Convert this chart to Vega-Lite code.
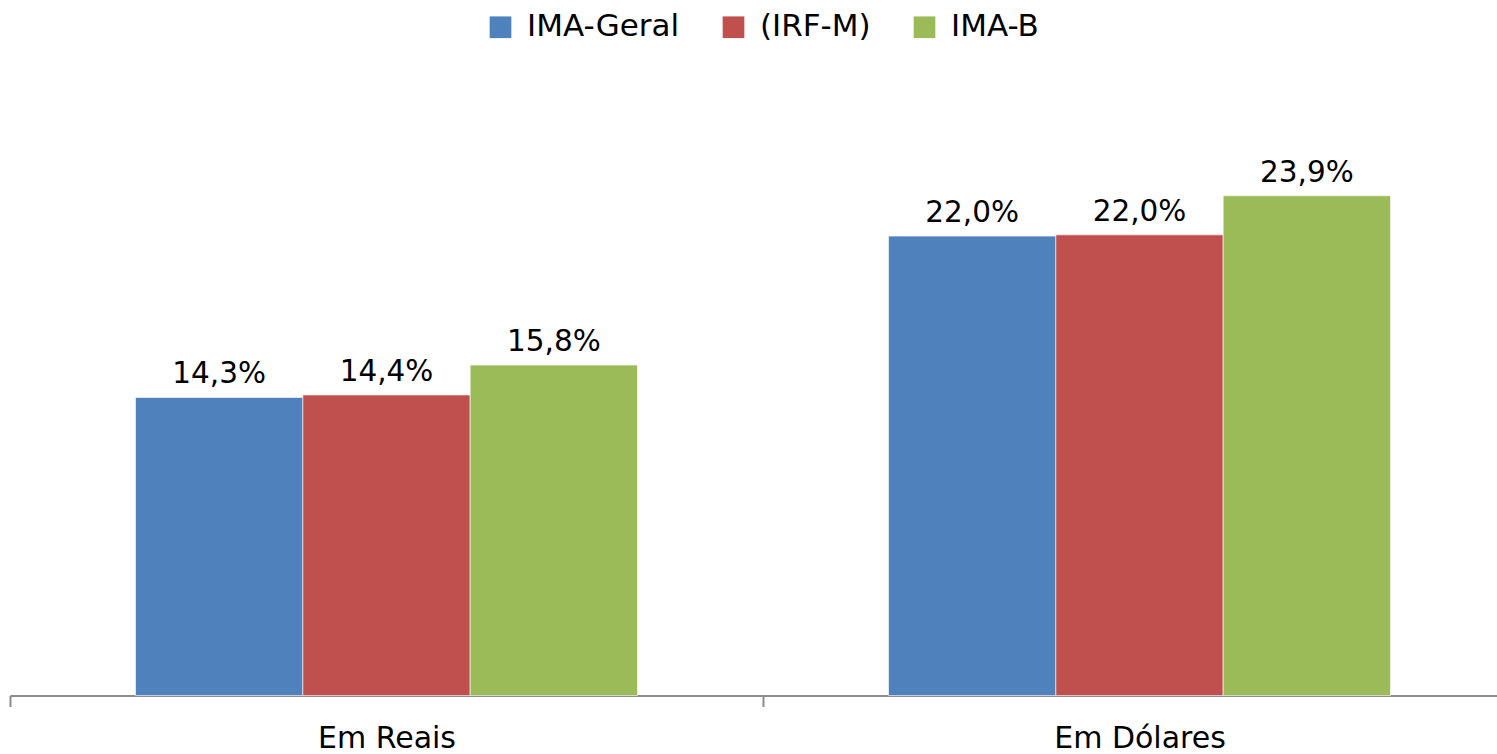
{
  "$schema": "https://vega.github.io/schema/vega-lite/v6.json",
  "autosize": {"type": "none"},
  "width": 1487,
  "height": 627,
  "padding": {"left": 10, "top": 68.5, "right": 0, "bottom": 58.5},
  "background": "white",
  "config": {
    "view": {"stroke": null},
    "locale": {"number": {"decimal": ",", "thousands": ".", "grouping": [3], "currency": ["R$", ""]}},
    "font": "DejaVu Sans"
  },
  "data": {
    "values": [
      {"grupo": "Em Reais", "indice": "IMA-Geral", "retorno": 0.1426},
      {"grupo": "Em Reais", "indice": "(IRF-M)", "retorno": 0.1438},
      {"grupo": "Em Reais", "indice": "IMA-B", "retorno": 0.1581},
      {"grupo": "Em Dólares", "indice": "IMA-Geral", "retorno": 0.2198},
      {"grupo": "Em Dólares", "indice": "(IRF-M)", "retorno": 0.2204},
      {"grupo": "Em Dólares", "indice": "IMA-B", "retorno": 0.2391}
    ]
  },
  "encoding": {
    "x": {
      "field": "grupo",
      "type": "nominal",
      "sort": ["Em Reais", "Em Dólares"],
      "scale": {"range": [0, 1506], "paddingInner": 0, "paddingOuter": 0},
      "axis": {
        "title": null,
        "tickBand": "extent",
        "labelAngle": 0,
        "labelFont": "DejaVu Sans",
        "labelFontSize": 30,
        "labelColor": "#000000",
        "labelPadding": 17,
        "tickSize": 11,
        "tickWidth": 2,
        "tickColor": "#8c8c8c",
        "domainColor": "#8c8c8c",
        "domainWidth": 2,
        "grid": false
      }
    },
    "xOffset": {
      "field": "indice",
      "type": "nominal",
      "sort": ["IMA-Geral", "(IRF-M)", "IMA-B"],
      "scale": {"range": [125.5, 627.5], "paddingInner": 0, "paddingOuter": 0}
    },
    "y": {
      "field": "retorno",
      "type": "quantitative",
      "scale": {"domain": [0, 0.3], "nice": false, "zero": true},
      "axis": null
    }
  },
  "layer": [
    {
      "mark": {"type": "bar", "stroke": "#ffffff", "strokeWidth": 1, "strokeOpacity": 0.6},
      "encoding": {
        "color": {
          "field": "indice",
          "type": "nominal",
          "scale": {"domain": ["IMA-Geral", "(IRF-M)", "IMA-B"], "range": ["#4F81BD", "#C0504D", "#9BBB59"]},
          "legend": {
            "title": null,
            "orient": "none",
            "direction": "horizontal",
            "legendX": 475,
            "legendY": -57,
            "symbolType": "square",
            "symbolSize": 470,
            "symbolStrokeWidth": 0,
            "labelFont": "DejaVu Sans",
            "labelFontSize": 31,
            "labelColor": "#000000",
            "labelOffset": 11,
            "columnPadding": 38
          }
        }
      }
    },
    {
      "mark": {"type": "text", "baseline": "alphabetic", "dy": -14, "fontSize": 29.5, "font": "DejaVu Sans", "color": "#000000"},
      "encoding": {
        "text": {"field": "retorno", "type": "quantitative", "format": ".1%"}
      }
    }
  ]
}
